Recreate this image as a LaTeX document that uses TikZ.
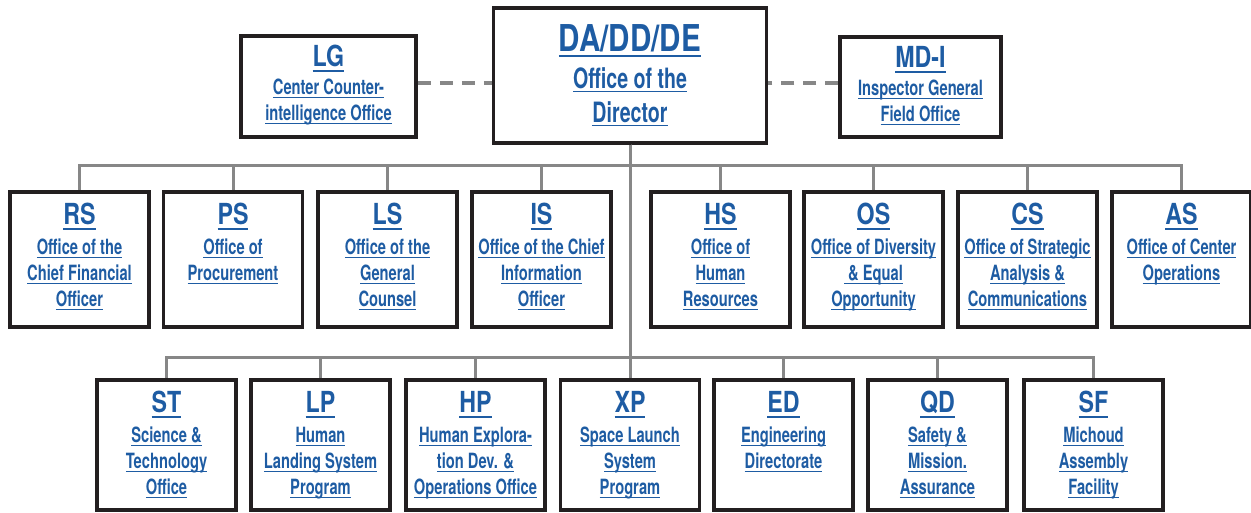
\documentclass[tikz,border=0pt]{standalone}
\usepackage{fontspec}
\setmainfont{TeX Gyre Heros}[FakeStretch=0.7]
\newfontfamily\codefont{TeX Gyre Heros}[FakeStretch=0.8]
\usepackage{tikz}
\usetikzlibrary{positioning, calc}

\definecolor{orgblue}{RGB}{30,92,163}
\definecolor{framegray}{RGB}{35,31,32}
\definecolor{linkgray}{RGB}{135,135,135}

% underlined text, one line
\newcommand{\ul}[1]{\setbox0=\hbox{#1}\rlap{\rule[-3.6pt]{\wd0}{1.2pt}}\box0}
% office code, larger and underlined
\newcommand{\code}[2][29]{{\codefont\bfseries\fontsize{#1}{26}\selectfont\setbox0=\hbox{#2}\rlap{\rule[-5pt]{\wd0}{2pt}}\box0}}
% centred lines, hung from the first baseline
\newcommand{\stack}[1]{\begin{tabular}[t]{@{}c@{}}#1\end{tabular}}

\begin{document}
\begin{tikzpicture}[
    x=1pt, y=-1pt,
    unit/.style={rectangle, draw=framegray, line width=3.5pt, inner sep=0pt, anchor=north,
        minimum width=139pt, text height=33pt, text depth=102pt, text=orgblue,
        font=\bfseries\fontsize{21}{26}\selectfont},
    lowunit/.style={unit, text depth=97pt},
    topunit/.style={unit, minimum width=273pt, text height=44pt, text depth=91pt,
        font=\bfseries\fontsize{28}{34}\selectfont},
    sideunit/.style={unit, text height=31pt, text depth=70pt},
    link/.style={draw=linkgray, line width=3pt},
    dashlink/.style={draw=linkgray, line width=4pt, dash pattern=on 13pt off 9pt}
]
\useasboundingbox (0,0) rectangle (1251,512);

\node (da) [topunit] at (630,6) {\stack{\code[37]{DA/DD/DE}\\[3pt]\ul{Office of the}\\\ul{Director}}};
\node (lg) [sideunit, minimum width=175pt] at (328.5,34) {\stack{\code{LG}\\[2pt]\ul{Center Counter-}\\\ul{intelligence Office}}};
\node (mdi) [sideunit, minimum width=161pt, text depth=69pt] at (920.5,35) {\stack{\code{MD-I}\\[2pt]\ul{Inspector General}\\\ul{Field Office}}};

\coordinate (bus1) at (0,165);
\coordinate (bus2) at (0,357);

% staff offices
\node (rs) [unit] at (79.5,190) {\stack{\code{RS}\\[4pt]\ul{Office of the}\\\ul{Chief Financial}\\\ul{Officer}}};
\node (ps) [unit] at (233,190) {\stack{\code{PS}\\[4pt]\ul{Office of}\\\ul{Procurement}}};
\node (ls) [unit] at (387.5,190) {\stack{\code{LS}\\[4pt]\ul{Office of the}\\\ul{General}\\\ul{Counsel}}};
\node (is) [unit] at (541.5,190) {\stack{\code{IS}\\[4pt]\ul{Office of the Chief}\\\ul{Information}\\\ul{Officer}}};
\node (hs) [unit] at (720.5,190) {\stack{\code{HS}\\[4pt]\ul{Office of}\\\ul{Human}\\\ul{Resources}}};
\node (os) [unit] at (873.5,190) {\stack{\code{OS}\\[4pt]\ul{Office of Diversity}\\\ul{ \& Equal}\\\ul{Opportunity}}};
\node (cs) [unit] at (1027.5,190) {\stack{\code{CS}\\[4pt]\ul{Office of Strategic}\\\ul{Analysis \&}\\\ul{Communications}}};
\node (as) [unit] at (1181.5,190) {\stack{\code{AS}\\[4pt]\ul{Office of Center}\\\ul{Operations}}};

% programs and directorates
\node (st) [lowunit] at (166.5,378) {\stack{\code{ST}\\[4pt]\ul{Science \&}\\\ul{Technology}\\\ul{Office}}};
\node (lp) [lowunit] at (320.5,378) {\stack{\code{LP}\\[4pt]\ul{Human}\\\ul{Landing System}\\\ul{Program}}};
\node (hp) [lowunit] at (475.5,378) {\stack{\code{HP}\\[4pt]\ul{Human Explora-}\\\ul{tion Dev. \&}\\\ul{Operations Office}}};
\node (xp) [lowunit] at (630,378) {\stack{\code{XP}\\[4pt]\ul{Space Launch}\\\ul{System}\\\ul{Program}}};
\node (ed) [lowunit] at (783.5,378) {\stack{\code{ED}\\[4pt]\ul{Engineering}\\\ul{Directorate}}};
\node (qd) [lowunit] at (937.5,378) {\stack{\code{QD}\\[4pt]\ul{Safety \&}\\\ul{Mission.}\\\ul{Assurance}}};
\node (sf) [lowunit] at (1093.5,378) {\stack{\code{SF}\\[4pt]\ul{Michoud}\\\ul{Assembly}\\\ul{Facility}}};

\foreach \n in {rs,ps,ls,is,hs,os,cs,as}
    \draw [link] (da.south) |- (bus1 -| \n.north) -- (\n.north);
\foreach \n in {st,lp,hp,xp,ed,qd,sf}
    \draw [link] (da.south) |- (bus2 -| \n.north) -- (\n.north);

\draw [dashlink] (lg.east |- 0,83) -- (da.west |- 0,83);
\draw [dashlink] (mdi.west |- 0,83) -- (da.east |- 0,83);

\end{tikzpicture}
\end{document}
